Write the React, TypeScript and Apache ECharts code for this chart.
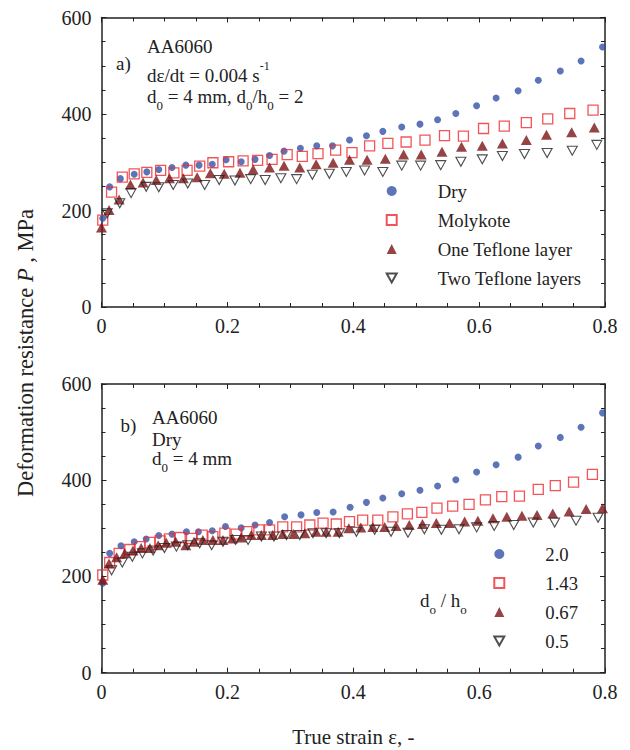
import React, { useEffect, useRef } from "react";
import * as echarts from "echarts";

// ---------- data ----------
const strainTicks = [0, 0.2, 0.4, 0.6, 0.8];
const pTicks = [0, 200, 400, 600];

// panel a) lubrication conditions
const topNames = ["Dry", "Molykote", "One Teflone layer", "Two Teflone layers"];

const aDryStrain = [0.002, 0.013, 0.030, 0.052, 0.072, 0.091, 0.112, 0.134, 0.155, 0.176, 0.198, 0.222, 0.244, 0.267, 0.290, 0.316, 0.342, 0.367, 0.394, 0.421, 0.447, 0.477, 0.506, 0.534, 0.563, 0.596, 0.627, 0.662, 0.694, 0.729, 0.762, 0.796];
const aDryP = [184, 249, 266, 275, 280, 285, 289, 294, 294, 296, 305, 301, 306, 314, 323, 329, 334, 334, 346, 355, 364, 373, 379, 388, 401, 417, 433, 448, 470, 489, 510, 539];

const aMolyStrain = [0.002, 0.016, 0.033, 0.052, 0.072, 0.094, 0.115, 0.136, 0.156, 0.177, 0.202, 0.225, 0.248, 0.271, 0.295, 0.319, 0.344, 0.372, 0.398, 0.426, 0.455, 0.484, 0.514, 0.545, 0.575, 0.607, 0.640, 0.675, 0.709, 0.744, 0.781];
const aMolyP = [180, 238, 269, 276, 279, 283, 278, 283, 292, 299, 301, 303, 304, 306, 316, 312, 318, 325, 320, 334, 339, 342, 346, 355, 354, 370, 375, 382, 390, 401, 408];

const aOneStrain = [0.0, 0.012, 0.028, 0.046, 0.066, 0.087, 0.108, 0.130, 0.152, 0.173, 0.195, 0.220, 0.241, 0.267, 0.290, 0.315, 0.341, 0.368, 0.394, 0.422, 0.451, 0.480, 0.508, 0.541, 0.572, 0.605, 0.637, 0.675, 0.707, 0.747, 0.783];
const aOneP = [165, 201, 223, 254, 258, 263, 267, 267, 269, 277, 276, 278, 285, 289, 293, 289, 296, 299, 305, 305, 307, 316, 316, 322, 332, 334, 339, 346, 357, 362, 372];

const aTwoStrain = [0.009, 0.029, 0.047, 0.071, 0.091, 0.114, 0.137, 0.164, 0.187, 0.212, 0.237, 0.260, 0.285, 0.310, 0.335, 0.362, 0.389, 0.418, 0.447, 0.477, 0.507, 0.539, 0.571, 0.605, 0.637, 0.672, 0.708, 0.748, 0.787];
const aTwoP = [194, 215, 236, 249, 248, 253, 256, 253, 263, 262, 265, 263, 267, 265, 274, 276, 280, 283, 280, 293, 293, 294, 301, 306, 313, 317, 319, 324, 336];

// panel b) d0/h0 ratios
const bottomNames = ["2.0", "1.43", "0.67", "0.5"];

const b20Strain = [0.002, 0.013, 0.031, 0.052, 0.071, 0.091, 0.112, 0.135, 0.154, 0.176, 0.197, 0.222, 0.244, 0.267, 0.291, 0.317, 0.342, 0.368, 0.395, 0.421, 0.447, 0.477, 0.506, 0.534, 0.563, 0.596, 0.627, 0.662, 0.694, 0.729, 0.762, 0.796];
const b20P = [186, 248, 264, 272, 278, 285, 288, 293, 293, 295, 304, 301, 307, 312, 324, 328, 333, 334, 344, 354, 363, 372, 379, 388, 401, 417, 432, 448, 471, 489, 510, 540];

const b143Strain = [0.002, 0.013, 0.028, 0.045, 0.061, 0.077, 0.093, 0.108, 0.125, 0.143, 0.160, 0.177, 0.196, 0.214, 0.231, 0.250, 0.267, 0.288, 0.310, 0.331, 0.352, 0.373, 0.394, 0.415, 0.439, 0.463, 0.486, 0.509, 0.533, 0.558, 0.584, 0.610, 0.636, 0.664, 0.694, 0.721, 0.750, 0.780];
const b143P = [203, 229, 248, 256, 262, 271, 274, 278, 281, 279, 286, 283, 290, 288, 293, 297, 297, 303, 303, 307, 311, 309, 314, 317, 317, 324, 330, 333, 342, 346, 350, 359, 366, 367, 381, 389, 396, 412];

const b067Strain = [0.002, 0.012, 0.024, 0.037, 0.050, 0.063, 0.077, 0.090, 0.103, 0.118, 0.134, 0.147, 0.161, 0.177, 0.193, 0.208, 0.222, 0.238, 0.254, 0.272, 0.288, 0.305, 0.323, 0.341, 0.357, 0.376, 0.393, 0.412, 0.431, 0.450, 0.468, 0.489, 0.510, 0.532, 0.553, 0.577, 0.598, 0.622, 0.644, 0.668, 0.692, 0.717, 0.743, 0.770, 0.796];
const b067P = [193, 227, 240, 248, 254, 259, 259, 265, 270, 272, 265, 272, 276, 276, 276, 279, 281, 286, 286, 286, 288, 288, 290, 293, 293, 293, 300, 302, 303, 303, 305, 307, 309, 311, 311, 314, 316, 321, 324, 326, 328, 331, 335, 340, 342];

const b05Strain = [0.016, 0.033, 0.049, 0.065, 0.082, 0.100, 0.119, 0.137, 0.156, 0.175, 0.193, 0.213, 0.233, 0.254, 0.274, 0.294, 0.315, 0.336, 0.357, 0.378, 0.405, 0.434, 0.460, 0.487, 0.513, 0.540, 0.568, 0.596, 0.624, 0.655, 0.686, 0.720, 0.754, 0.789];
const b05P = [213, 229, 241, 248, 254, 259, 262, 265, 269, 265, 272, 276, 276, 283, 283, 286, 286, 290, 290, 290, 293, 297, 293, 291, 298, 297, 298, 302, 305, 307, 312, 312, 316, 322];

// ---------- styling ----------
const FONT = "'Liberation Serif', 'Times New Roman', serif";
const INK = "#222";
const BLUE = "#3552a6";
const RED = "#ee2a2e";
const DARKRED = "#7c1417";
const DOWN_TRIANGLE = "path://M0,0L10,0L5,9Z";

const zip = (xs: number[], ys: number[]) => xs.map((x, i) => [x, ys[i]]);

const styles = [
  { symbol: "circle", symbolSize: 7, itemStyle: { color: BLUE } },
  { symbol: "rect", symbolSize: 10, itemStyle: { color: "rgba(0,0,0,0)", borderColor: RED, borderWidth: 1.3 } },
  { symbol: "triangle", symbolSize: [11, 10], itemStyle: { color: DARKRED } },
  { symbol: "triangle", symbolSize: [10, 9], symbolRotate: 180, itemStyle: { color: "rgba(0,0,0,0)", borderColor: INK, borderWidth: 1.1 } },
];

function xAxis(gridIndex: number, position: string, showLabel: boolean) {
  return {
    type: "value",
    gridIndex,
    position,
    min: strainTicks[0],
    max: strainTicks[strainTicks.length - 1],
    interval: 0.2,
    axisLine: { show: true, onZero: false, lineStyle: { color: INK, width: 1.5 } },
    axisTick: { show: true, inside: true, length: 5, lineStyle: { color: INK, width: 1 } },
    minorTick: { show: true, splitNumber: 4, length: 4, lineStyle: { color: INK, width: 1 } },
    splitLine: { show: false },
    minorSplitLine: { show: false },
    axisLabel: {
      show: showLabel,
      margin: 9,
      fontFamily: FONT,
      fontSize: 20,
      color: INK,
      formatter: (v: number) => (v === 0 ? "0" : v.toFixed(1)),
    },
  };
}

function yAxis(gridIndex: number, position: string, showLabel: boolean) {
  return {
    type: "value",
    gridIndex,
    position,
    min: pTicks[0],
    max: pTicks[pTicks.length - 1],
    interval: 200,
    axisLine: { show: true, onZero: false, lineStyle: { color: INK, width: 1.5 } },
    axisTick: { show: true, inside: true, length: 5, lineStyle: { color: INK, width: 1 } },
    minorTick: { show: true, splitNumber: 4, length: 4, lineStyle: { color: INK, width: 1 } },
    splitLine: { show: false },
    minorSplitLine: { show: false },
    axisLabel: { show: showLabel, margin: 10, fontFamily: FONT, fontSize: 20, color: INK },
  };
}

const rich = {
  n: { fontFamily: FONT, fontSize: 19, lineHeight: 30, color: INK },
  i: { fontFamily: FONT, fontSize: 22.5, lineHeight: 30, fontStyle: "italic", color: INK },
  t: { fontFamily: FONT, fontSize: 22.5, lineHeight: 30, color: INK },
  x: { fontFamily: FONT, fontSize: 21, lineHeight: 30, color: INK },
  sub: { fontFamily: FONT, fontSize: 13, lineHeight: 12, verticalAlign: "top", padding: [18, 0, 0, 0], color: INK },
  sup: { fontFamily: FONT, fontSize: 12, lineHeight: 12, verticalAlign: "top", color: INK },
};

function label(text: string, x: number, y: number) {
  return {
    type: "text",
    x,
    y,
    silent: true,
    style: { text, rich, align: "left", verticalAlign: "middle", fill: INK, fontFamily: FONT, fontSize: 19 },
  };
}

// legend entries: the open down-triangle needs an explicit icon
const legendItems = (names: string[]) =>
  names.map((name, i) => (i === 3 ? { name, icon: DOWN_TRIANGLE } : { name }));

export default function App() {
  const ref = useRef<HTMLDivElement>(null);

  useEffect(() => {
    if (!ref.current) return;
    const chart = echarts.init(ref.current, undefined, { renderer: "svg" });

    const topData = [zip(aDryStrain, aDryP), zip(aMolyStrain, aMolyP), zip(aOneStrain, aOneP), zip(aTwoStrain, aTwoP)];
    const bottomData = [zip(b20Strain, b20P), zip(b143Strain, b143P), zip(b067Strain, b067P), zip(b05Strain, b05P)];

    const series: any[] = [];
    topNames.forEach((name, i) =>
      series.push({ type: "scatter", name, xAxisIndex: 0, yAxisIndex: 0, data: topData[i], ...styles[i] })
    );
    bottomNames.forEach((name, i) =>
      series.push({ type: "scatter", name, xAxisIndex: 2, yAxisIndex: 2, data: bottomData[i], ...styles[i] })
    );

    const legendCommon = {
      orient: "vertical",
      padding: 0,
      itemWidth: 10,
      itemHeight: 10,
      itemGap: 10,
      selectedMode: false,
      symbolKeepAspect: true,
      symbolRotate: 0,
      formatter: "{l|{name}}",
      textStyle: {
        fontFamily: FONT,
        fontSize: 18.7,
        color: INK,
        rich: { l: { fontFamily: FONT, fontSize: 18.7, lineHeight: 18, color: INK, padding: [0, 0, 0, 36] } },
      },
    };

    chart.setOption({
      animation: false,
      backgroundColor: "#fff",
      textStyle: { fontFamily: FONT },
      grid: [
        { left: 101.5, top: 17.5, width: 503.5, height: 289.5 },
        { left: 101.5, top: 384, width: 503.5, height: 288.7 },
      ],
      xAxis: [xAxis(0, "bottom", true), xAxis(0, "top", false), xAxis(1, "bottom", true), xAxis(1, "top", false)],
      yAxis: [yAxis(0, "left", true), yAxis(0, "right", false), yAxis(1, "left", true), yAxis(1, "right", false)],
      legend: [
        { ...legendCommon, left: 385.7, top: 181.5, data: legendItems(topNames) },
        { ...legendCommon, left: 493.3, top: 544.5, data: legendItems(bottomNames) },
      ],
      series,
      graphic: [
        label("{n|a)}", 116, 63),
        label("{n|AA6060}", 147, 46),
        label("{n|dε/dt = 0.004 s}{sup|-1}", 147, 75),
        label("{n|d}{sub|0}{n| = 4 mm, d}{sub|0}{n|/h}{sub|0}{n| = 2}", 147, 96),
        label("{n|b)}", 120.5, 425),
        label("{n|AA6060}", 152, 417),
        label("{n|Dry}", 152, 439),
        label("{n|d}{sub|0}{n| = 4 mm}", 152, 458),
        label("{n|d}{sub|o}{n| / h}{sub|o}", 420, 600),
        {
          type: "text",
          x: 353.4,
          y: 736.5,
          silent: true,
          style: { text: "{x|True strain ε, -}", rich, align: "center", verticalAlign: "middle", fill: INK },
        },
        {
          type: "text",
          x: 25,
          y: 353,
          rotation: Math.PI / 2,
          silent: true,
          style: { text: "{t|Deformation resistance }{i|P}{t| , MPa}", rich, align: "center", verticalAlign: "middle", fill: INK },
        },
      ],
    });

    return () => chart.dispose();
  }, []);

  return (
    <div
      ref={ref}
      style={{ position: "absolute", left: 0, top: 0, width: 630, height: 750, background: "#fff" }}
    />
  );
}
